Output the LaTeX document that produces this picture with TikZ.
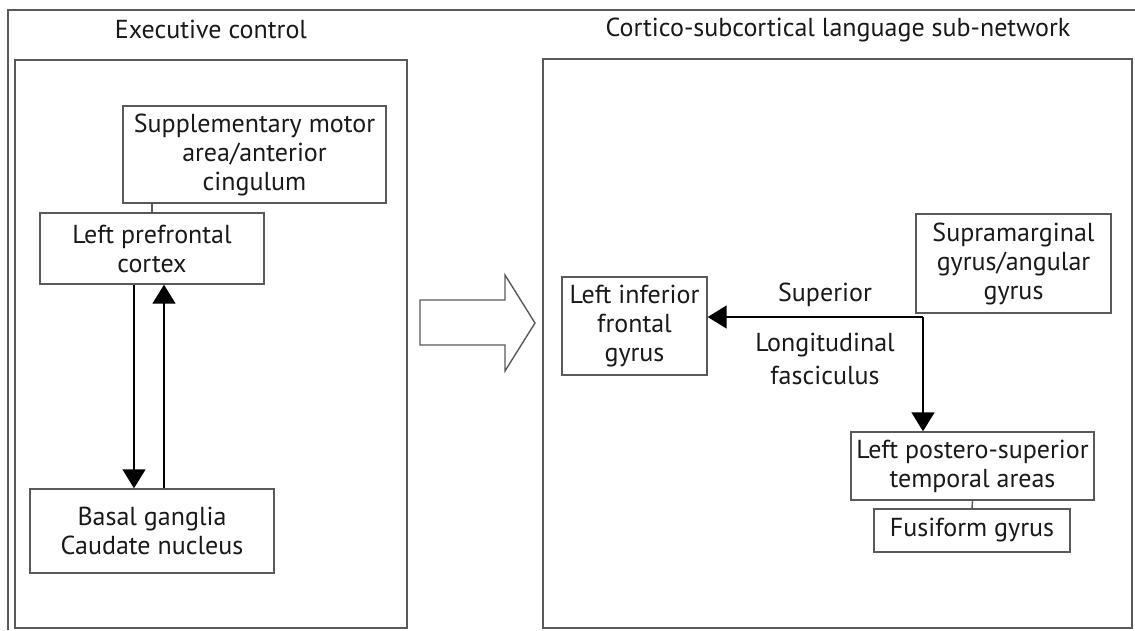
\documentclass[tikz,border=0pt]{standalone}
\usepackage{fontspec}
\setmainfont{PT Sans}
\usetikzlibrary{arrows.meta}
\begin{document}
\begin{tikzpicture}
[x=1pt,y=-1pt,
  textDecorate/.style={font=\fontsize{26}{29}\selectfont,text=black!90,align=center,inner sep=0pt},%
  boxDecorate/.style={shape=rectangle,draw=black!65,line width=1.4pt,textDecorate},%
  panelDecorate/.style={draw=black!65,line width=1.4pt},%
  lineDecorate/.style={-,draw=black!65,line width=1.4pt},%
  arrowDecorate/.style={-{Triangle[width=23pt,length=19pt]},draw=black,line width=1.6pt}]
\useasboundingbox (0,0) rectangle (1135,630);
%% frame, panels and titles
\draw[panelDecorate] (8,630) -- (8,10) -- (1135,10);
\draw[panelDecorate] (15,60) rectangle (407,628);
\draw[panelDecorate] (543,59) rectangle (1132,628);
\node (execTitle) at (211,29) [textDecorate] {Executive control};
\node (langTitle) at (838,30) [textDecorate] {Cortico-subcortical language sub-network};
%% boxes
\foreach \nodename/\x/\y/\w/\h/\boxtext in {
  sma/254.5/154.5/263/97/{Supplementary motor\\area/anterior\\cingulum},
  lpfc/152/248.5/224/71/{Left prefrontal\\cortex},
  basal/152/531/244/84/{Basal ganglia\\Caudate nucleus},
  lifg/634.5/326/145/98/{Left inferior\\frontal\\gyrus},
  smg/1013.5/263.5/195/99/{Supramarginal\\gyrus/angular\\gyrus},
  lpst/972.5/466/243/68/{Left postero-superior\\temporal areas},
  fusi/972/530.5/196/43/{Fusiform gyrus}}
{
  \node (\nodename) at (\x,\y) [boxDecorate,minimum width=\w pt,minimum height=\h pt] {\boxtext};
}
%% big arrow between the panels
\draw[panelDecorate] (420,300) -- (505,300) -- (505,275) -- (535,323)
  -- (505,371) -- (505,345) -- (420,345) -- cycle;
%% labels
\node (slfTop) at (825,295) [textDecorate] {Superior};
\node (slfBottom) at (825,359) [textDecorate] {Longitudinal\\[4pt]fasciculus};
\coordinate (slf) at (923,317);
%% edges or lines
\draw[lineDecorate] (lpfc.north) -- (lpfc.north |- sma.south);
\draw[arrowDecorate] ([xshift=-18pt]lpfc.south) -- ([xshift=-18pt]basal.north);
\draw[arrowDecorate] ([xshift=12pt]basal.north) -- ([xshift=12pt]lpfc.south);
\draw[arrowDecorate] (slf) -- (slf -| lifg.east);
\draw[arrowDecorate] (slf) -- (slf |- lpst.north);
\draw[lineDecorate] (lpst.south) -- (fusi.north);
\end{tikzpicture}
\end{document}
